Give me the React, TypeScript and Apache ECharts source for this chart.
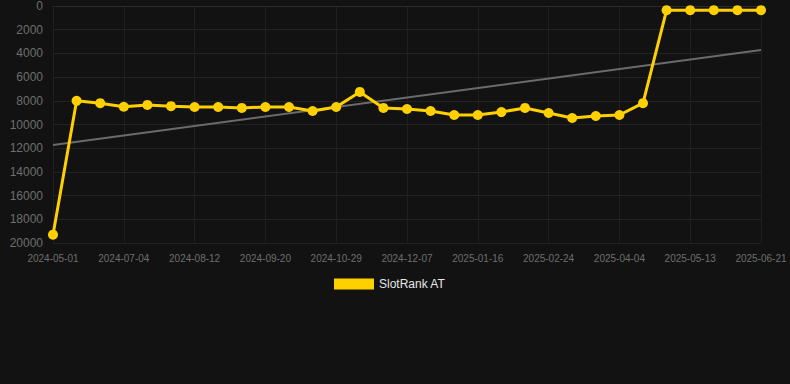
import React, { useEffect, useRef } from "react";
import * as echarts from "echarts";

const categories = [
  "2024-05-01", "2024-06-08", "2024-06-21", "2024-07-04", "2024-07-17", "2024-07-30",
  "2024-08-12", "2024-08-25", "2024-09-07", "2024-09-20", "2024-10-03", "2024-10-16",
  "2024-10-29", "2024-11-11", "2024-11-24", "2024-12-07", "2024-12-20", "2025-01-03",
  "2025-01-16", "2025-01-29", "2025-02-11", "2025-02-24", "2025-03-09", "2025-03-22",
  "2025-04-04", "2025-04-17", "2025-04-30", "2025-05-13", "2025-05-26", "2025-06-08",
  "2025-06-21",
];

const rankValues = [
  19300, 8000, 8200, 8500, 8350, 8450, 8520, 8520, 8600, 8520, 8520, 8860,
  8520, 7250, 8600, 8690, 8860, 9200, 9200, 8950, 8600, 9030, 9450, 9280,
  9200, 8200, 350, 350, 350, 350, 350,
];

const trendStart = 11730;
const trendEnd = 3720;

const seriesName = "SlotRank AT";

export default function App() {
  const ref = useRef<HTMLDivElement>(null);
  useEffect(() => {
    document.body.style.margin = "0";
    document.body.style.background = "#121212";
    if (!ref.current) return;
    const chart = echarts.init(ref.current, null, { renderer: "svg" });
    const trendData = categories.map((_, i) =>
      i === 0 ? trendStart : i === categories.length - 1 ? trendEnd : null
    );
    chart.setOption({
      animation: false,
      backgroundColor: "#121212",
      grid: { left: 53, right: 29, top: 6, bottom: 141, containLabel: false },
      legend: {
        data: [{ name: seriesName, icon: "rect" }],
        top: 273,
        left: 329,
        itemWidth: 40,
        itemHeight: 11,
        textStyle: { color: "#e6e6e6", fontSize: 12, fontFamily: "Arial, Liberation Sans, sans-serif" },
      },
      xAxis: {
        type: "category",
        data: categories,
        boundaryGap: false,
        axisLine: { show: true, lineStyle: { color: "#2a2a2a" } },
        axisTick: { show: false },
        axisLabel: {
          interval: 2,
          color: "#6e6e6e",
          fontSize: 10,
          margin: 10,
          fontFamily: "Arial, Liberation Sans, sans-serif",
        },
        splitLine: { show: true, interval: 2, lineStyle: { color: "#1f1f1f" } },
      },
      yAxis: {
        type: "value",
        inverse: true,
        min: 0,
        max: 20000,
        interval: 2000,
        axisLine: { show: false },
        axisTick: { show: false },
        axisLabel: {
          color: "#6e6e6e",
          fontSize: 12,
          margin: 10,
          formatter: (v: number) => String(v),
          fontFamily: "Arial, Liberation Sans, sans-serif",
        },
        splitLine: { show: true, lineStyle: { color: "#222222" } },
      },
      series: [
        {
          name: "trend",
          type: "line",
          data: trendData,
          connectNulls: true,
          showSymbol: false,
          symbol: "none",
          lineStyle: { color: "#6b6b6b", width: 2 },
          silent: true,
          z: 1,
        },
        {
          name: seriesName,
          type: "line",
          data: rankValues,
          symbol: "circle",
          symbolSize: 10,
          itemStyle: { color: "#ffd000" },
          lineStyle: { color: "#ffd000", width: 3 },
          z: 2,
        },
      ],
    });
    return () => chart.dispose();
  }, []);
  return <div ref={ref} style={{ width: 790, height: 384 }} />;
}
